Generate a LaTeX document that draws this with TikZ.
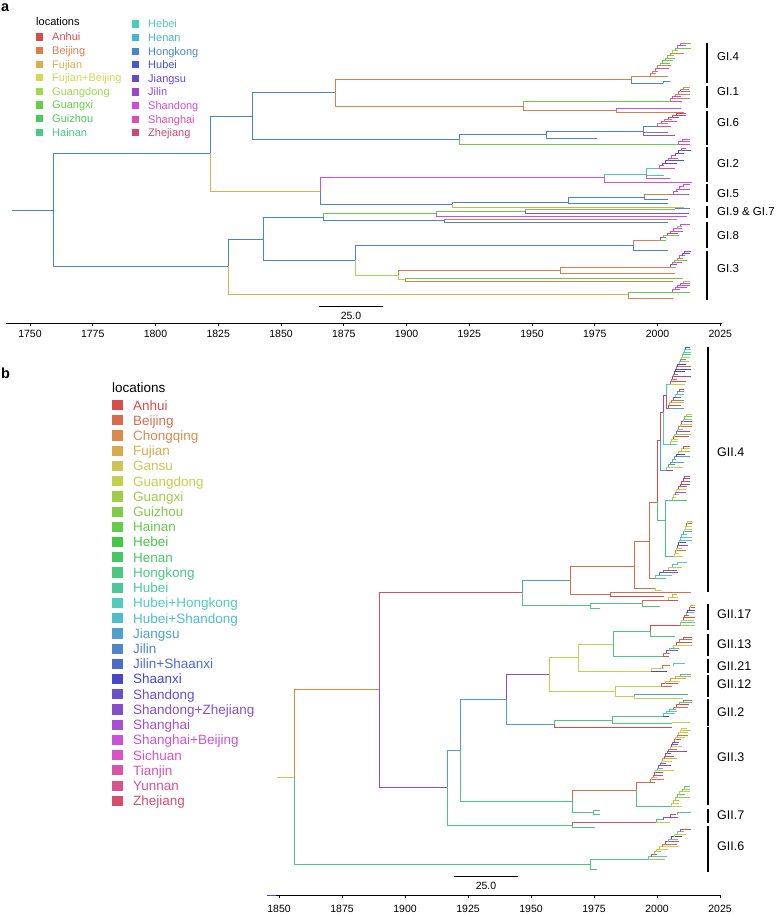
\PassOptionsToPackage{rgb}{xcolor}
\documentclass[tikz,border=0pt]{standalone}
\usepackage{fontspec}
\setmainfont{Liberation Sans}
\usetikzlibrary{positioning}

% location colours, panel a
\definecolor{caAnhui}{hsb}{0.000,0.65,0.85}
\definecolor{caBeijing}{hsb}{0.059,0.65,0.85}
\definecolor{caFujian}{hsb}{0.118,0.65,0.85}
\definecolor{caFujianBeijing}{hsb}{0.176,0.65,0.85}
\definecolor{caGuangdong}{hsb}{0.235,0.65,0.85}
\definecolor{caGuangxi}{hsb}{0.294,0.65,0.80}
\definecolor{caGuizhou}{hsb}{0.353,0.65,0.80}
\definecolor{caHainan}{hsb}{0.412,0.65,0.80}
\definecolor{caHebei}{hsb}{0.471,0.65,0.80}
\definecolor{caHenan}{hsb}{0.529,0.65,0.80}
\definecolor{caHongkong}{hsb}{0.588,0.65,0.80}
\definecolor{caHubei}{hsb}{0.647,0.65,0.80}
\definecolor{caJiangsu}{hsb}{0.706,0.65,0.80}
\definecolor{caJilin}{hsb}{0.765,0.65,0.80}
\definecolor{caShandong}{hsb}{0.824,0.65,0.85}
\definecolor{caShanghai}{hsb}{0.882,0.65,0.85}
\definecolor{caZhejiang}{hsb}{0.941,0.65,0.80}
% location colours, panel b
\definecolor{cbAnhui}{hsb}{0.000,0.65,0.85}
\definecolor{cbBeijing}{hsb}{0.037,0.65,0.85}
\definecolor{cbChongqing}{hsb}{0.074,0.65,0.85}
\definecolor{cbFujian}{hsb}{0.111,0.65,0.85}
\definecolor{cbGansu}{hsb}{0.148,0.60,0.82}
\definecolor{cbGuangdong}{hsb}{0.185,0.65,0.82}
\definecolor{cbGuangxi}{hsb}{0.222,0.65,0.80}
\definecolor{cbGuizhou}{hsb}{0.259,0.65,0.80}
\definecolor{cbHainan}{hsb}{0.296,0.65,0.80}
\definecolor{cbHebei}{hsb}{0.333,0.65,0.78}
\definecolor{cbHenan}{hsb}{0.370,0.65,0.78}
\definecolor{cbHongkong}{hsb}{0.407,0.62,0.78}
\definecolor{cbHubei}{hsb}{0.444,0.62,0.78}
\definecolor{cbHubeiHongkong}{hsb}{0.481,0.62,0.80}
\definecolor{cbHubeiShandong}{hsb}{0.519,0.62,0.80}
\definecolor{cbJiangsu}{hsb}{0.556,0.62,0.80}
\definecolor{cbJilin}{hsb}{0.593,0.62,0.80}
\definecolor{cbJilinShaanxi}{hsb}{0.630,0.62,0.80}
\definecolor{cbShaanxi}{hsb}{0.667,0.65,0.80}
\definecolor{cbShandong}{hsb}{0.704,0.62,0.80}
\definecolor{cbShandongZhejiang}{hsb}{0.741,0.62,0.80}
\definecolor{cbShanghai}{hsb}{0.778,0.62,0.82}
\definecolor{cbShanghaiBeijing}{hsb}{0.815,0.62,0.85}
\definecolor{cbSichuan}{hsb}{0.852,0.62,0.85}
\definecolor{cbTianjin}{hsb}{0.889,0.62,0.85}
\definecolor{cbYunnan}{hsb}{0.926,0.62,0.85}
\definecolor{cbZhejiang}{hsb}{0.963,0.65,0.85}

\pgfmathdeclarerandomlist{laGIfour}{{caBeijing}{caShandong}{caGuangxi}{caBeijing}{caShanghai}{caGuangdong}}
\pgfmathdeclarerandomlist{laGIone}{{caShandong}{caGuangxi}{caShanghai}{caBeijing}}
\pgfmathdeclarerandomlist{laGIsix}{{caBeijing}{caBeijing}{caGuangxi}{caShandong}{caZhejiang}}
\pgfmathdeclarerandomlist{laGItwo}{{caShandong}{caShanghai}{caHubei}{caJiangsu}{caShandong}}
\pgfmathdeclarerandomlist{laGIfive}{{caShandong}{caShanghai}{caBeijing}}
\pgfmathdeclarerandomlist{laGIeight}{{caBeijing}{caGuangxi}{caShandong}{caZhejiang}}
\pgfmathdeclarerandomlist{laGIthree}{{caBeijing}{caGuangxi}{caShandong}{caJilin}}
\pgfmathdeclarerandomlist{laGIthreeb}{{caGuangxi}{caShandong}{caHubei}{caFujian}{caZhejiang}}
\pgfmathdeclarerandomlist{laPink}{{caShandong}{caShanghai}}
\pgfmathdeclarerandomlist{lbFour}{{cbGuangdong}{cbGuangdong}{cbGuangxi}{cbBeijing}{cbAnhui}{cbShandongZhejiang}{cbHubeiHongkong}{cbJiangsu}{cbShaanxi}{cbHongkong}}
\pgfmathdeclarerandomlist{lbFourPink}{{cbShanghai}{cbGuangdong}{cbHongkong}{cbShandongZhejiang}{cbAnhui}}
\pgfmathdeclarerandomlist{lbMix}{{cbGuangdong}{cbBeijing}{cbShandongZhejiang}{cbHubeiHongkong}{cbHongkong}{cbAnhui}{cbShaanxi}{cbGuangxi}}
\pgfmathdeclarerandomlist{lbRed}{{cbBeijing}{cbAnhui}{cbShandongZhejiang}{cbGuangdong}{cbHongkong}{cbFujian}}

\tikzset{
  branch/.style={line width=0.9pt},
  twig/.style={line width=0.7pt},
  cladebar/.style={line width=1.2pt, black},
  panel/.style={font=\fontsize{14.5}{16}\selectfont\bfseries, anchor=base west, inner sep=0pt},
  loca/.style={font=\fontsize{11}{12}\selectfont, anchor=base west, inner sep=0pt},
  locb/.style={font=\fontsize{13.5}{15}\selectfont, anchor=base west, inner sep=0pt},
  cladea/.style={font=\fontsize{11.5}{13}\selectfont, anchor=west, inner sep=0pt},
  cladeb/.style={font=\fontsize{12.5}{14}\selectfont, anchor=west, inner sep=0pt},
  axlab/.style={font=\fontsize{10.5}{12}\selectfont, anchor=base, inner sep=0pt},
}

% one lineage: parent (x,y) to child (x,y), elbow shape
\newcommand{\lineage}[5]{\draw[branch,#1] (#2,#3) |- (#4,#5);}
% ladder of tips: x0, y top, y bottom, x tip, tips, colour list
\newcommand{\tuft}[6]{%
  \pgfmathsetmacro{\tfstep}{(#3-#2)/(#5-1)}
  \pgfmathsetmacro{\tfdx}{0.8*(#4-#1)/(#5-1)}
  \foreach \j in {1,...,#5}{
    \pgfmathsetmacro{\tfy}{#3-(\j-1)*\tfstep}
    \pgfmathsetmacro{\tfx}{#1+max(\j-2,0)*\tfdx}
    \pgfmathsetmacro{\tfv}{min(\tfy+\tfstep,#3)}
    \pgfmathsetmacro{\tfe}{min(#4,\tfx+4+16*rnd)}
    \pgfmathrandomitem{\tfc}{#6}
    \draw[twig,\tfc] (\tfx,\tfv) -- (\tfx,\tfy) -- (\tfe,\tfy);
  }}

\begin{document}
\begin{tikzpicture}[x=1pt, y=-1pt]
\useasboundingbox (0,0) rectangle (778,915);
\pgfmathsetseed{7}

%% ---------------- panel a ----------------
\node[panel] (pa) at (1,12) {a};
\node[loca] (lochead) at (36,26) {locations};
\foreach \nm/\lab [count=\i from 0] in {Anhui/Anhui, Beijing/Beijing, Fujian/Fujian, FujianBeijing/Fujian+Beijing, Guangdong/Guangdong, Guangxi/Guangxi, Guizhou/Guizhou, Hainan/Hainan} {
  \pgfmathsetmacro{\yy}{41+13.6*\i}
  \fill[ca\nm] (36,\yy-7.6) rectangle (43,\yy-0.4);
  \node[loca, text=ca\nm] (la\nm) at (52,\yy) {\lab};
}
\foreach \nm [count=\i from 0] in {Hebei, Henan, Hongkong, Hubei, Jiangsu, Jilin, Shandong, Shanghai, Zhejiang} {
  \pgfmathsetmacro{\yy}{28+13.6*\i}
  \fill[ca\nm] (132,\yy-7.6) rectangle (139,\yy-0.4);
  \node[loca, text=ca\nm] (la\nm) at (148,\yy) {\nm};
}

% backbone
\draw[branch,caHongkong] (12,210) -- (53,210);
\lineage{caHongkong}{53}{210}{210}{153}
\lineage{caHongkong}{53}{210}{228}{266}
\lineage{caHongkong}{210}{153}{252}{116}
\lineage{caFujian}{210}{153}{320}{191}
\lineage{caHongkong}{252}{116}{335}{92}
\lineage{caHongkong}{252}{116}{459}{139}
\lineage{caBeijing}{335}{92}{631}{79}
\lineage{caBeijing}{335}{92}{523}{106}
% GI.4
\lineage{caBeijing}{631}{79}{650}{76}
\tuft{650}{43}{76}{691}{14}{laGIfour}
\lineage{caHongkong}{631}{79}{663}{83}
\lineage{caHongkong}{663}{83}{670}{81}
% GI.1
\lineage{caGuangxi}{523}{106}{670}{101}
\tuft{670}{87}{101}{690}{7}{laGIone}
\lineage{caBeijing}{523}{106}{616}{110}
\lineage{caShandong}{616}{110}{681}{108}
\lineage{caBeijing}{616}{110}{684}{112}
% GI.6
\lineage{caHongkong}{459}{139}{546}{134}
\lineage{caGuangxi}{459}{139}{678}{144}
\tuft{678}{139}{144}{690}{3}{laPink}
\lineage{caHongkong}{546}{134}{643}{131}
\lineage{caHongkong}{546}{134}{597}{138}
\lineage{caHongkong}{643}{131}{657}{126}
\tuft{657}{113}{126}{686}{7}{laGIsix}
\lineage{caHongkong}{643}{131}{668}{132}
\lineage{caZhejiang}{643}{131}{675}{135}
% GI.2
\lineage{caShandong}{320}{191}{604}{177}
\lineage{caHongkong}{320}{191}{452}{204}
\lineage{caHebei}{604}{177}{646}{174}
\lineage{caShandong}{604}{177}{692}{182}
\lineage{caHebei}{646}{174}{659}{168}
\tuft{659}{148}{168}{691}{9}{laGItwo}
\lineage{caHebei}{646}{174}{664}{175}
\lineage{caShandong}{646}{174}{670}{178}
% GI.5
\lineage{caHongkong}{452}{204}{568}{202}
\lineage{caFujian}{452}{204}{684}{207}
\lineage{caHongkong}{568}{202}{644}{197}
\lineage{caHongkong}{568}{202}{668}{203}
\lineage{caBeijing}{644}{197}{673}{194}
\tuft{673}{184}{194}{690}{5}{laGIfive}
\lineage{caHongkong}{644}{197}{668}{199}
% GI.9 & GI.7
\lineage{caHongkong}{228}{266}{263}{239}
\lineage{caHongkong}{263}{239}{323}{217}
\lineage{caGuangxi}{323}{217}{436}{213}
\lineage{caHongkong}{323}{217}{444}{220}
\lineage{caGuangxi}{436}{213}{525}{211}
\lineage{caShandong}{436}{213}{687}{216}
\lineage{caGuangxi}{525}{211}{675}{209}
\lineage{caJilin}{525}{211}{689}{213}
\lineage{caHongkong}{675}{209}{690}{208}
\lineage{caBeijing}{444}{220}{677}{219}
\lineage{caHongkong}{444}{220}{668}{222}
% GI.8
\lineage{caHongkong}{263}{239}{355}{260}
\lineage{caHongkong}{355}{260}{633}{245}
\lineage{caGuangdong}{355}{260}{398}{275}
\lineage{caBeijing}{633}{245}{660}{240}
\tuft{660}{224}{240}{690}{8}{laGIeight}
\lineage{caHongkong}{633}{245}{668}{250}
% GI.3
\lineage{caBeijing}{398}{275}{560}{270}
\lineage{caGuangdong}{398}{275}{405}{279}
\lineage{caBeijing}{560}{270}{670}{267}
\tuft{670}{251}{267}{691}{8}{laGIthree}
\lineage{caBeijing}{560}{270}{675}{273}
\lineage{caGuangxi}{405}{279}{683}{278}
\lineage{caBeijing}{405}{279}{673}{281}
\lineage{caFujian}{228}{266}{628}{294}
\lineage{caGuangxi}{628}{294}{672}{292}
\tuft{672}{281}{292}{690}{6}{laGIthreeb}
\lineage{caBeijing}{628}{294}{673}{298}

% clade bars
\foreach \ya/\yb/\ym/\lab [count=\i] in {43/83/57/GI.4, 86/108/92/GI.1, 111/145/123/GI.6, 147/182/164/GI.2, 184/202/194/GI.5, 206/218/212/GI.9 \& GI.7, 222/248/236/GI.8, 251/300/269/GI.3} {
  \draw[cladebar] (707,\ya) -- (707,\yb);
  \node[cladea] (gi\i) at (717,\ym) {\lab};
}

% scale bar and time axis
\draw[line width=1pt] (319,306) -- (383,306);
\node[axlab] (sca) at (351,319) {25.0};
\draw[line width=0.8pt] (6,323) -- (722,323);
\foreach \yr in {1750,1775,...,2025} {
  \pgfmathsetmacro{\xx}{30+(\yr-1750)*2.51}
  \draw[line width=0.6pt] (\xx,323) -- (\xx,326);
  \node[axlab] (ta\yr) at (\xx,337.5) {\yr};
}

%% ---------------- panel b ----------------
\node[panel] (pb) at (1,378) {b};
\node[locb] (lochead) at (112,392) {locations};
\foreach \nm/\lab [count=\i from 0] in {Anhui/Anhui, Beijing/Beijing, Chongqing/Chongqing, Fujian/Fujian, Gansu/Gansu, Guangdong/Guangdong, Guangxi/Guangxi, Guizhou/Guizhou, Hainan/Hainan, Hebei/Hebei, Henan/Henan, Hongkong/Hongkong, Hubei/Hubei, HubeiHongkong/Hubei+Hongkong, HubeiShandong/Hubei+Shandong, Jiangsu/Jiangsu, Jilin/Jilin, JilinShaanxi/Jilin+Shaanxi, Shaanxi/Shaanxi, Shandong/Shandong, ShandongZhejiang/Shandong+Zhejiang, Shanghai/Shanghai, ShanghaiBeijing/Shanghai+Beijing, Sichuan/Sichuan, Tianjin/Tianjin, Yunnan/Yunnan, Zhejiang/Zhejiang} {
  \pgfmathsetmacro{\yy}{410+15.22*\i}
  \fill[cb\nm] (112,\yy-10) rectangle (123,\yy+0.2);
  \node[locb, text=cb\nm] (lb\nm) at (133,\yy) {\lab};
}

% backbone
\draw[branch,cbGansu] (277,777) -- (294,777);
\lineage{cbChongqing}{294}{777}{379}{689}
\lineage{cbHongkong}{294}{777}{590}{864}
\lineage{cbZhejiang}{379}{689}{522}{592}
\lineage{cbShandongZhejiang}{379}{689}{447}{787}
\lineage{cbJiangsu}{522}{592}{570}{580}
\lineage{cbHongkong}{522}{592}{590}{605}
\lineage{cbBeijing}{570}{580}{634}{566}
\lineage{cbBeijing}{570}{580}{610}{594}
\lineage{cbBeijing}{610}{594}{691}{592}
\lineage{cbAnhui}{610}{594}{664}{596}
\lineage{cbHongkong}{590}{605}{642}{603}
\lineage{cbHongkong}{590}{605}{600}{608}
\lineage{cbBeijing}{642}{603}{668}{600}
\tuft{668}{594}{600}{678}{3}{lbMix}
\lineage{cbHongkong}{642}{603}{660}{606}
% GII.4
\lineage{cbBeijing}{634}{566}{649}{541}
\lineage{cbBeijing}{634}{566}{655}{588}
\lineage{cbGuangdong}{655}{588}{662}{590}
\lineage{cbBeijing}{649}{541}{657}{502}
\lineage{cbBeijing}{649}{541}{655}{578}
\tuft{655}{562}{578}{688}{7}{lbFour}
\lineage{cbAnhui}{657}{502}{660}{440}
\lineage{cbHongkong}{657}{502}{665}{520}
\lineage{cbHongkong}{665}{520}{672}{500}
\tuft{672}{476}{500}{690}{10}{lbFourPink}
\lineage{cbHongkong}{665}{520}{674}{556}
\tuft{674}{521}{556}{692}{14}{lbFour}
\lineage{cbAnhui}{660}{440}{663}{412}
\lineage{cbJiangsu}{660}{440}{666}{470}
\tuft{666}{446}{470}{690}{10}{lbFour}
\lineage{cbShandongZhejiang}{663}{412}{666}{395}
\lineage{cbHubeiHongkong}{663}{412}{670}{444}
\tuft{670}{414}{444}{692}{13}{lbFour}
\lineage{cbHubeiHongkong}{666}{395}{670}{384}
\tuft{670}{347}{384}{691}{16}{lbFour}
\lineage{cbAnhui}{666}{395}{668}{408}
\tuft{668}{389}{408}{684}{8}{lbFour}
% lower backbone
\lineage{cbJiangsu}{447}{787}{460}{750}
\lineage{cbHongkong}{447}{787}{572}{825}
\lineage{cbJiangsu}{460}{750}{506}{699}
\lineage{cbHongkong}{460}{750}{572}{801}
\lineage{cbShandongZhejiang}{506}{699}{549}{674}
\lineage{cbJiangsu}{506}{699}{554}{724}
\lineage{cbGuangdong}{549}{674}{578}{657}
\lineage{cbGuangdong}{549}{674}{615}{691}
\lineage{cbGuangdong}{578}{657}{613}{644}
\lineage{cbGuangdong}{578}{657}{651}{671}
\lineage{cbHongkong}{613}{644}{650}{631}
\lineage{cbHongkong}{613}{644}{663}{656}
% GII.17
\lineage{cbAnhui}{650}{631}{680}{625}
\tuft{680}{605}{625}{695}{9}{lbMix}
\lineage{cbHongkong}{650}{631}{675}{636}
% GII.13
\tuft{663}{637}{656}{692}{8}{lbRed}
% GII.21
\tuft{651}{663}{671}{692}{4}{lbMix}
% GII.12
\lineage{cbGuangdong}{615}{691}{661}{686}
\tuft{661}{674}{686}{691}{6}{lbRed}
\lineage{cbGuangdong}{615}{691}{634}{696}
\lineage{cbJiangsu}{634}{696}{688}{694}
\lineage{cbGuangdong}{634}{696}{683}{698}
% GII.2
\lineage{cbHongkong}{554}{724}{612}{720}
\lineage{cbAnhui}{554}{724}{672}{727}
\lineage{cbHongkong}{612}{720}{663}{716}
\tuft{663}{700}{716}{692}{8}{lbMix}
\lineage{cbHongkong}{612}{720}{672}{723}
\lineage{cbGuangdong}{672}{723}{690}{722}
% GII.3
\lineage{cbBeijing}{572}{801}{636}{790}
\lineage{cbHongkong}{572}{801}{593}{812}
\lineage{cbHongkong}{593}{812}{600}{810}
\lineage{cbHongkong}{593}{812}{600}{814}
\lineage{cbBeijing}{636}{790}{650}{782}
\tuft{650}{728}{782}{691}{24}{lbRed}
\lineage{cbHongkong}{636}{790}{671}{806}
\tuft{671}{786}{806}{690}{8}{lbMix}
% GII.7
\lineage{cbZhejiang}{572}{825}{656}{822}
\tuft{656}{812}{822}{692}{5}{lbRed}
\lineage{cbHongkong}{572}{825}{595}{827}
% GII.6
\lineage{cbHongkong}{590}{864}{648}{859}
\tuft{648}{829}{859}{692}{13}{lbMix}
\lineage{cbHongkong}{590}{864}{597}{869}

% clade bars
\foreach \ya/\yb/\ym/\lab [count=\i] in {347/592/452/GII.4, 604/630/614/GII.17, 634/656/644/GII.13, 659/673/666/GII.21, 675/697/684/GII.12, 699/726/712/GII.2, 727/805/757/GII.3, 809/823/815/GII.7, 826/872/846/GII.6} {
  \draw[cladebar] (708,\ya) -- (708,\yb);
  \node[cladeb] (gii\i) at (717,\ym) {\lab};
}

% scale bar and time axis
\draw[line width=1pt] (454,876) -- (518,876);
\node[axlab] (scb) at (486,889) {25.0};
\draw[line width=0.8pt] (267,895) -- (720,895);
\draw[line width=0.8pt, cbShaanxi] (267,895) -- (276,895);
\foreach \yr in {1850,1875,...,2025} {
  \pgfmathsetmacro{\xx}{279+(\yr-1850)*2.52}
  \draw[line width=0.6pt] (\xx,895) -- (\xx,898);
  \node[axlab] (tb\yr) at (\xx,912) {\yr};
}
\end{tikzpicture}
\end{document}
